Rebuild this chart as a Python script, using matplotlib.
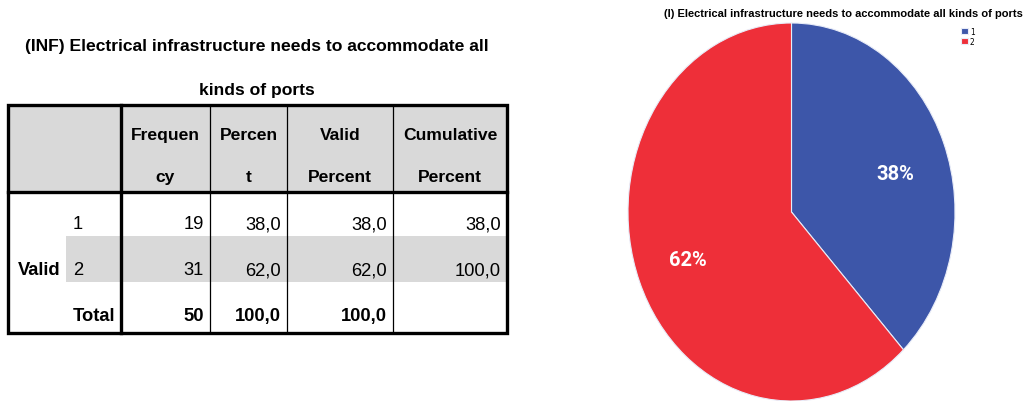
import numpy as np
import matplotlib.pyplot as plt
from matplotlib.patches import Rectangle

# frequency table data
categories = ['1', '2']
freq = [19, 31]
percent = [38.0, 62.0]
valid_pct = [38.0, 62.0]
cum_pct = [38.0, 100.0]
total_n = 50
total_pct = 100.0
headers = [('Frequen', 'cy'), ('Percen', 't'), ('Valid', 'Percent'), ('Cumulative', 'Percent')]

title_tab = ['(INF) Electrical infrastructure needs to accommodate all', 'kinds of ports']
title_pie = '(I) Electrical infrastructure needs to accommodate all kinds of ports'
colors = ['#3D56A9', '#EE2F39']

W, H = 1027, 402
narrow = ['Liberation Sans Narrow', 'Liberation Sans', 'DejaVu Sans']

def fmt(v):
    return f'{v:.1f}'.replace('.', ',')

fig = plt.figure(figsize=(W / 100, H / 100), dpi=100)
fig.patch.set_facecolor('white')

# ---- table drawn in pixel space ----
tab = fig.add_axes([0, 0, 1, 1])
tab.set_xlim(0, W)
tab.set_ylim(H, 0)
tab.axis('off')

x0, xv, xc, x2, x3, x4, x5 = 8, 66, 121, 210, 287, 393, 507
y0, yh, y1 = 106, 193, 334
gray = '#D9D9D9'

tab.add_patch(Rectangle((x0, y0), x5 - x0, yh - y0, color=gray, lw=0))
tab.add_patch(Rectangle((xv, 237), x5 - xv, 46, color=gray, lw=0))

for line, y in zip(title_tab, [47, 90]):
    tab.text(257, y, line, ha='center', va='center', fontsize=12.6,
             fontweight='bold', family=narrow)

cols = [x2, x3, x4, x5]
lefts = [xc, x2, x3, x4]
hs = dict(ha='center', va='center', fontsize=12.6, fontweight='bold', family=narrow)
for (a, b), l, r in zip(headers, lefts, cols):
    cx = (l + r) / 2
    tab.text(cx, 136, a, **hs)
    tab.text(cx, 178, b, **hs)

bs = dict(va='center', fontsize=13.2, family=narrow)
rows_y = [225, 271]
for i, cat in enumerate(categories):
    y = rows_y[i]
    tab.text(73, y, cat, ha='left', **bs)
    vals = [str(freq[i]), fmt(percent[i]), fmt(valid_pct[i]), fmt(cum_pct[i])]
    for v, r in zip(vals, cols):
        tab.text(r - 6, y, v, ha='right', **bs)

tab.text(18, 271, 'Valid', ha='left', fontweight='bold', **bs)
tab.text(73, 317, 'Total', ha='left', fontweight='bold', **bs)
tot_vals = [str(total_n), fmt(total_pct), fmt(total_pct)]
for v, r in zip(tot_vals, cols[:3]):
    tab.text(r - 6, 317, v, ha='right', fontweight='bold', **bs)

# grid lines
tab.add_patch(Rectangle((x0, y0), x5 - x0, y1 - y0, fill=False, ec='black', lw=2.4))
tab.plot([x0, x5], [yh, yh], color='black', lw=2.4)
tab.plot([xc, xc], [y0, y1], color='black', lw=2.4)
for x in [x2, x3, x4]:
    tab.plot([x, x], [y0, y1], color='black', lw=0.9)

# ---- pie chart (stretched into an ellipse) ----
pl, pr, pt, pb = 628, 955, 24, 402
pie = fig.add_axes([pl / W, 1 - pb / H, (pr - pl) / W, (pb - pt) / H])
wedges, texts, autotexts = pie.pie(freq, colors=colors, startangle=90, counterclock=False,
                                   autopct='%1.0f%%', pctdistance=0.68,
                                   wedgeprops=dict(edgecolor='#E8ECF8', linewidth=0.8),
                                   textprops=dict(color='white', fontsize=14.5, fontweight='bold',
                                                  family=['Roboto', 'DejaVu Sans']))
# nudge the 38% label a bit lower, as in the original
px, py = autotexts[0].get_position()
autotexts[0].set_position((px, py - 0.045))
pie.set_aspect('auto')
pie.set_xlim(-1, 1)
pie.set_ylim(-1, 1)
pie.axis('off')

fig.text(843 / W, 1 - 14 / H, title_pie, ha='center', va='center', fontsize=8,
         fontweight='bold', family=narrow)
fig.legend(wedges, categories, loc='upper left', bbox_to_anchor=(957 / W, 1 - 24 / H),
           bbox_transform=fig.transFigure, frameon=False, fontsize=5.5,
           handlelength=0.9, handleheight=0.9, handletextpad=0.3, labelspacing=0.1,
           borderpad=0)

fig.savefig('out.png', dpi=100)
